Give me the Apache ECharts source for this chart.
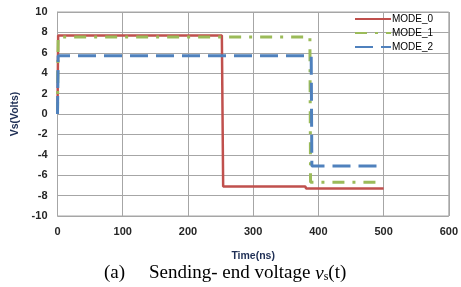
<!DOCTYPE html>
<html>
<head>
<meta charset="utf-8">
<script src="https://cdn.jsdelivr.net/npm/echarts@6/dist/echarts.min.js"></script>
<style>
html,body{margin:0;padding:0;background:#fff;}
#demo{width:461px;height:287px;}
</style>
</head>
<body>
<div id="demo"></div>
<script>
// time (ns), voltage (V) pairs
var mode0 = [[0, 0], [1, 7.7], [252, 7.7], [254, -7.1], [380, -7.1], [381, -7.3], [500, -7.3]];
var mode1 = [[0, 0], [1, 7.55], [387, 7.55], [388, -6.7], [500, -6.7]];
var mode2 = [[0, 0], [1, 5.7], [389, 5.7], [390, -5.1], [500, -5.1]];
var seriesNames = ['MODE_0', 'MODE_1', 'MODE_2'];
var xTicks = [0, 100, 200, 300, 400, 500, 600];
var yTicks = [-10, -8, -6, -4, -2, 0, 2, 4, 6, 8, 10];

var mychar = echarts.init(document.getElementById('demo'));
var labelFont = {fontFamily: 'Liberation Sans', fontWeight: 'bold', fontSize: 11, color: '#262626'};
var nameFont = {fontFamily: 'Liberation Sans', fontWeight: 'bold', fontSize: 10.5, color: '#1f2f55'};

mychar.setOption({
    animation: false,
    title: {
        text: '{a|(a)}Sending- end voltage {i|v}{sub|s}(t)',
        left: 99,
        top: 259,
        textStyle: {
            fontFamily: 'Liberation Serif',
            fontSize: 19,
            fontWeight: 'normal',
            color: '#000',
            rich: {
                a: {fontFamily: 'Liberation Serif', fontSize: 19, color: '#000', width: 45},
                i: {fontFamily: 'Liberation Serif', fontSize: 19, fontStyle: 'italic', color: '#000'},
                sub: {fontFamily: 'Liberation Serif', fontSize: 12, color: '#000', verticalAlign: 'bottom', padding: [7, 0, 0, 0]}
            }
        }
    },
    legend: {
        orient: 'vertical',
        left: 349,
        top: 9,
        itemWidth: 36,
        itemHeight: 8,
        itemGap: 4,
        data: seriesNames,
        itemStyle: {opacity: 0},
        textStyle: {fontFamily: 'Liberation Sans', fontSize: 10, color: '#000', padding: [0, 0, 0, -4], lineHeight: 10}
    },
    grid: {left: 57.5, right: 10.5, top: 12, bottom: 71, show: true, borderColor: '#a6a6a6', borderWidth: 1},
    xAxis: {
        type: 'value',
        min: xTicks[0],
        max: xTicks[xTicks.length - 1],
        interval: 100,
        name: 'Time(ns)',
        nameLocation: 'middle',
        nameGap: 35,
        nameTextStyle: nameFont,
        axisLine: {lineStyle: {color: '#a6a6a6'}},
        axisTick: {show: false},
        axisLabel: Object.assign({margin: 10}, labelFont),
        splitLine: {lineStyle: {color: '#a6a6a6'}}
    },
    yAxis: {
        type: 'value',
        min: yTicks[0],
        max: yTicks[yTicks.length - 1],
        interval: 2,
        name: 'Vs(Volts)',
        nameLocation: 'middle',
        nameGap: 36,
        nameRotate: 90,
        nameTextStyle: nameFont,
        axisLine: {show: true, lineStyle: {color: '#a6a6a6'}},
        axisTick: {show: false},
        axisLabel: Object.assign({margin: 10}, labelFont),
        splitLine: {lineStyle: {color: '#a6a6a6'}}
    },
    series: [
        {
            name: seriesNames[0], type: 'line', data: mode0, showSymbol: false, symbol: 'none',
            lineStyle: {color: '#c0504d', width: 2.5},
            itemStyle: {color: '#c0504d'}
        },
        {
            name: seriesNames[1], type: 'line', data: mode1, showSymbol: false, symbol: 'none',
            lineStyle: {color: '#9bbb59', width: 3, type: [12, 8, 3, 8]},
            itemStyle: {color: '#9bbb59'}
        },
        {
            name: seriesNames[2], type: 'line', data: mode2, showSymbol: false, symbol: 'none',
            lineStyle: {color: '#4f81bd', width: 3, type: [18, 8]},
            itemStyle: {color: '#4f81bd'}
        }
    ]
});
</script>
</body>
</html>
